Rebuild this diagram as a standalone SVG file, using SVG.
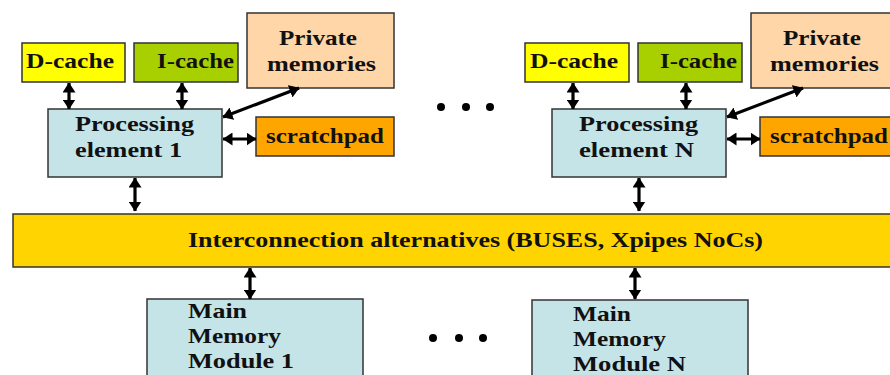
<svg xmlns="http://www.w3.org/2000/svg" width="890" height="375" viewBox="0 0 890 375">
<style>
.box{stroke:#333;stroke-width:1.5}
.t{font-family:"Liberation Serif","Times New Roman",serif;font-weight:bold;font-size:22px;fill:#111}
</style>
<defs>
<marker id="ah" markerUnits="userSpaceOnUse" viewBox="0 0 10 13" markerWidth="10" markerHeight="13" refX="9.5" refY="6.5" orient="auto-start-reverse">
<path d="M0,0 L10,6.5 L0,13 z" fill="#000"/>
</marker>
</defs>
<rect width="890" height="375" fill="#fff"/>
<g id="dcache1"><rect class="box" x="22" y="43" width="103" height="39" fill="#FFFF00"/><text class="t" x="26" y="68" textLength="88" lengthAdjust="spacingAndGlyphs">D-cache</text></g>
<g id="icache1"><rect class="box" x="134" y="43" width="104" height="39" fill="#A8D000"/><text class="t" x="157" y="68" textLength="77" lengthAdjust="spacingAndGlyphs">I-cache</text></g>
<g id="private1"><rect class="box" x="247" y="13" width="147" height="75" fill="#FFD6A8"/><text class="t" x="279" y="45" textLength="78" lengthAdjust="spacingAndGlyphs">Private</text><text class="t" x="267" y="71" textLength="109" lengthAdjust="spacingAndGlyphs">memories</text></g>
<g id="pe1"><rect class="box" x="48" y="109" width="174" height="68" fill="#C4E4E8"/><text class="t" x="75" y="131" textLength="119" lengthAdjust="spacingAndGlyphs">Processing</text><text class="t" x="75" y="157" textLength="107" lengthAdjust="spacingAndGlyphs">element 1</text></g>
<g id="scratch1"><rect class="box" x="256" y="117" width="138" height="39" fill="#FFA500"/><text class="t" x="266" y="143" textLength="118" lengthAdjust="spacingAndGlyphs">scratchpad</text></g>
<g id="dcacheN"><rect class="box" x="525" y="43" width="104" height="39" fill="#FFFF00"/><text class="t" x="530" y="68" textLength="88" lengthAdjust="spacingAndGlyphs">D-cache</text></g>
<g id="icacheN"><rect class="box" x="638" y="43" width="104" height="39" fill="#A8D000"/><text class="t" x="660" y="68" textLength="77" lengthAdjust="spacingAndGlyphs">I-cache</text></g>
<g id="privateN"><rect class="box" x="751" y="13" width="147" height="75" fill="#FFD6A8"/><text class="t" x="783" y="45" textLength="78" lengthAdjust="spacingAndGlyphs">Private</text><text class="t" x="770" y="71" textLength="109" lengthAdjust="spacingAndGlyphs">memories</text></g>
<g id="peN"><rect class="box" x="552" y="109" width="174" height="68" fill="#C4E4E8"/><text class="t" x="579" y="131" textLength="119" lengthAdjust="spacingAndGlyphs">Processing</text><text class="t" x="579" y="157" textLength="115" lengthAdjust="spacingAndGlyphs">element N</text></g>
<g id="scratchN"><rect class="box" x="760" y="117" width="138" height="39" fill="#FFA500"/><text class="t" x="770" y="143" textLength="118" lengthAdjust="spacingAndGlyphs">scratchpad</text></g>
<g id="bus"><rect class="box" x="13" y="214" width="885" height="53" fill="#FFD400"/><text class="t" x="188" y="247" textLength="575" lengthAdjust="spacingAndGlyphs">Interconnection alternatives (BUSES, Xpipes NoCs)</text></g>
<g id="mm1"><rect class="box" x="147" y="299" width="216" height="85" fill="#C4E4E8"/><text class="t" x="188" y="318" textLength="59" lengthAdjust="spacingAndGlyphs">Main</text><text class="t" x="188" y="343" textLength="93" lengthAdjust="spacingAndGlyphs">Memory</text><text class="t" x="188" y="368" textLength="106" lengthAdjust="spacingAndGlyphs">Module 1</text></g>
<g id="mmN"><rect class="box" x="532" y="300" width="216" height="85" fill="#C4E4E8"/><text class="t" x="573" y="321" textLength="58" lengthAdjust="spacingAndGlyphs">Main</text><text class="t" x="573" y="346" textLength="93" lengthAdjust="spacingAndGlyphs">Memory</text><text class="t" x="573" y="371" textLength="113" lengthAdjust="spacingAndGlyphs">Module N</text></g>
<g id="dots" fill="#000">
<circle cx="441" cy="107" r="4"/><circle cx="466" cy="107" r="4"/><circle cx="490" cy="107" r="4"/>
<circle cx="433" cy="338" r="4"/><circle cx="459" cy="338" r="4"/><circle cx="483" cy="338" r="4"/>
</g>
<g id="connectors" stroke="#000" stroke-width="3.2" fill="none" marker-start="url(#ah)" marker-end="url(#ah)">
<line x1="69" y1="83" x2="69" y2="109"/>
<line x1="182" y1="83" x2="182" y2="109"/>
<line x1="299" y1="88" x2="223" y2="117"/>
<line x1="223" y1="139" x2="256" y2="139"/>
<line x1="135" y1="178" x2="135" y2="211"/>
<line x1="573" y1="83" x2="573" y2="109"/>
<line x1="686" y1="83" x2="686" y2="109"/>
<line x1="803" y1="88" x2="727" y2="117"/>
<line x1="727" y1="139" x2="760" y2="139"/>
<line x1="639" y1="178" x2="639" y2="211"/>
<line x1="250" y1="268" x2="250" y2="299"/>
<line x1="635" y1="268" x2="635" y2="299"/>
</g>
</svg>
